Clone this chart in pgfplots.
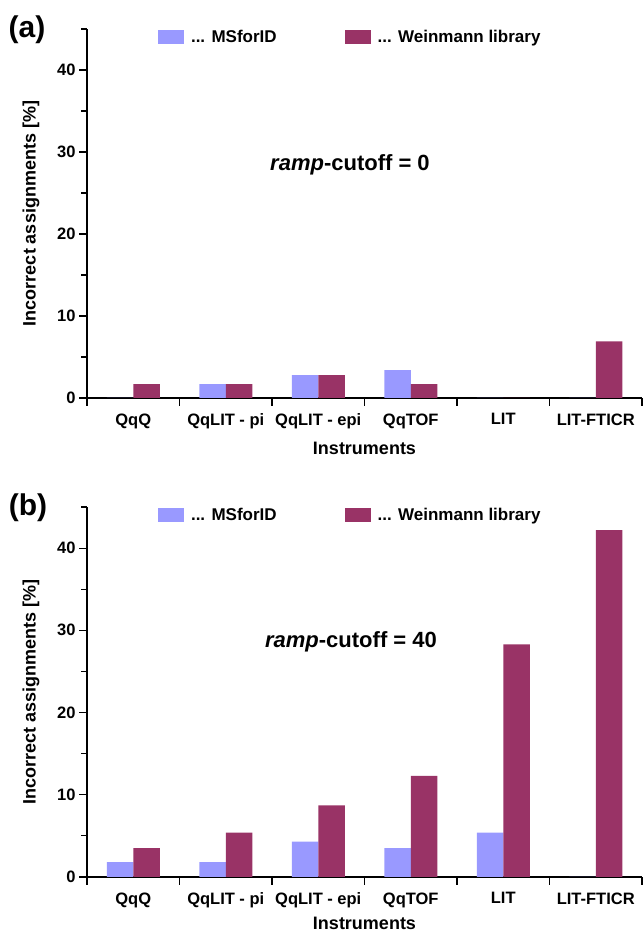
\documentclass[border=0pt]{standalone}
\usepackage{fontspec}
\setmainfont{Liberation Sans}
\usepackage{pgfplots}
\pgfplotsset{compat=1.18}
\definecolor{msf}{HTML}{9999FF}
\definecolor{wein}{HTML}{993366}
\pgfplotsset{panel/.style={
  scale only axis, width=555pt,
  xmin=-0.5, xmax=5.5, ymin=0, ymax=45,
  axis lines*=left,
  axis line style={line width=1.1pt, black},
  every tick/.style={line width=1.1pt, black},
  tick align=outside,
  ybar=0pt, bar width=26.5pt,
  xtick={-0.5,0.5,1.5,2.5,3.5,4.5,5.5}, xticklabels={},
  major tick length=8pt, minor tick length=6pt,
  extra x ticks={0,1,2,3,4,5},
  extra x tick labels={QqQ, QqLIT - pi, QqLIT - epi, QqTOF, LIT, LIT-FTICR},
  extra x tick style={major tick length=0pt, tick style={draw=none}},
  ytick={0,10,20,30,40}, minor ytick={5,15,25,35,45},
  /pgf/number format/assume math mode=true,
  ticklabel style={font=\bfseries\fontsize{16.5}{18}\selectfont},
  xticklabel style={yshift=-12pt},
  xlabel={Instruments}, ylabel={Incorrect assignments [\%]},
  label style={font=\bfseries\fontsize{18}{20}\selectfont},
  ylabel style={at={(axis description cs:-0.1009,0.5)}, anchor=center},
  legend columns=2,
  legend image code/.code={\fill[##1] (0pt,-7pt) rectangle (26pt,7pt);},
  legend style={draw=none, fill=none, inner sep=0pt, outer sep=0pt,
    nodes={inner sep=0pt, font=\bfseries\fontsize{17}{19}\selectfont},
    /tikz/every odd column/.append style={column sep=7pt},
    /tikz/every even column/.append style={column sep=68pt},
    at={(axis description cs:0.128,0.978)}, anchor=west},
}}
\begin{document}
\begin{tikzpicture}
\useasboundingbox (0,0) rectangle (643pt,933pt);
\begin{axis}[panel, height=369pt, at={(87pt,535pt)}, anchor=south west,
  xlabel style={at={(axis description cs:0.5,-0.1355)}, anchor=center}]
\addplot[fill=msf, draw=none] coordinates {(0,0) (1,1.7) (2,2.8) (3,3.4) (4,0) (5,0)};
\addlegendentry{.{}.{}. MSforID}
\addplot[fill=wein, draw=none] coordinates {(0,1.7) (1,1.7) (2,2.8) (3,1.7) (4,0) (5,6.9)};
\addlegendentry{.{}.{}. Weinmann library}
\node[font=\bfseries\fontsize{22}{24}\selectfont] at (axis cs:2.343,28.4) {\textit{ramp}-cutoff = 0};
\end{axis}
\begin{axis}[panel, height=370pt, at={(87pt,56pt)}, anchor=south west,
  xlabel style={at={(axis description cs:0.5,-0.1243)}, anchor=center}]
\addplot[fill=msf, draw=none] coordinates {(0,1.8) (1,1.8) (2,4.3) (3,3.5) (4,5.4) (5,0)};
\addlegendentry{.{}.{}. MSforID}
\addplot[fill=wein, draw=none] coordinates {(0,3.5) (1,5.4) (2,8.7) (3,12.3) (4,28.3) (5,42.2)};
\addlegendentry{.{}.{}. Weinmann library}
\node[font=\bfseries\fontsize{22}{24}\selectfont] at (axis cs:2.354,28.6) {\textit{ramp}-cutoff = 40};
\end{axis}
\node[font=\bfseries\fontsize{30}{32}\selectfont] at (27pt,903pt) {(a)};
\node[font=\bfseries\fontsize{30}{32}\selectfont] at (28pt,425pt) {(b)};
\end{tikzpicture}
\end{document}
